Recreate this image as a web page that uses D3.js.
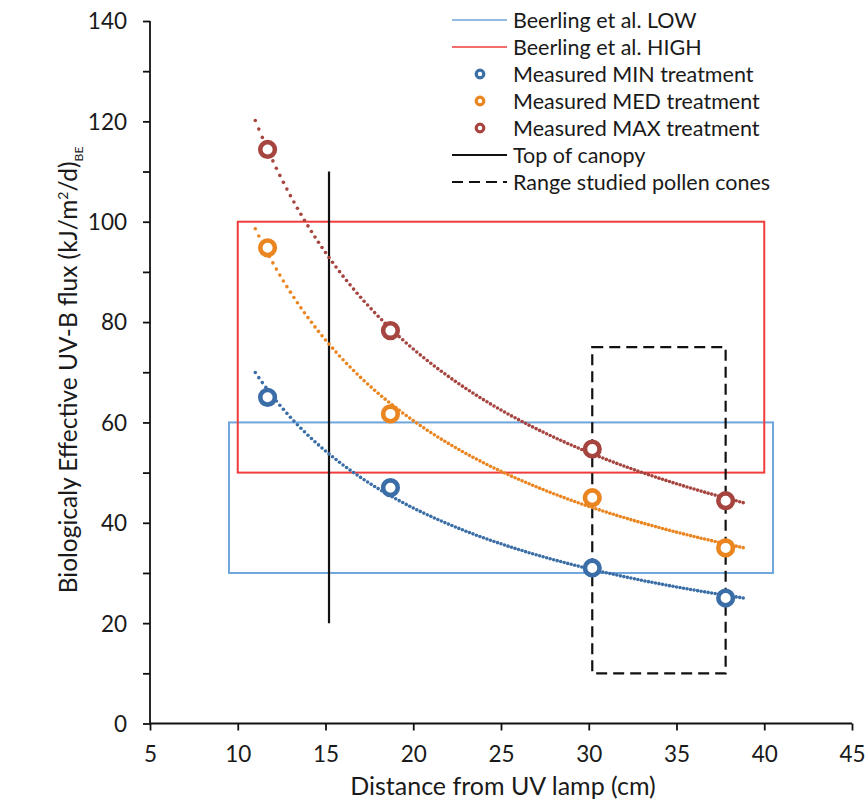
<!DOCTYPE html>
<html><head><meta charset="utf-8">
<script src="https://cdn.jsdelivr.net/npm/d3@7"></script>
<style>body{margin:0;background:#fff}</style></head>
<body><svg id="c" width="867" height="803"></svg>
<script>
const xTicks=[5,10,15,20,25,30,35,40,45];
const yTicks=[0,20,40,60,80,100,120,140];
const yMinorTicks=[10,30,50,70,90,110,130];
const distance=[11.7,18.7,30.2,37.8];
const minVals=[65,47,31,25];
const medVals=[94.8,61.7,45,35];
const maxVals=[114.4,78.3,54.7,44.4];
const seriesNames=["Measured MIN treatment","Measured MED treatment","Measured MAX treatment"];
const seriesColors=["#3b6ea6","#ea8520","#a6443f"];
const lowBox={x0:9.5,x1:40.5,y0:30,y1:60};
const highBox={x0:10,x1:40,y0:50,y1:100};
const canopy={x:15.2,y0:20,y1:110};
const pollenBox={x0:30.2,x1:37.8,y0:10,y1:75};
const trendRange=[11,38.9];
const FONT="Lato, 'Open Sans', sans-serif";
const TXT="#1a1a1a";

const svg=d3.select("#c");
const x=d3.scaleLinear().domain([5,45]).range([150,852]);
const y=d3.scaleLinear().domain([0,140]).range([723.5,21]);

function box(b,color,dash,w){
  svg.append("rect").attr("x",x(b.x0)).attr("y",y(b.y1))
    .attr("width",x(b.x1)-x(b.x0)).attr("height",y(b.y0)-y(b.y1))
    .attr("fill","none").attr("stroke",color).attr("stroke-width",w)
    .attr("stroke-dasharray",dash||null);
}
box(lowBox,"#6fa6dc",null,2);
box(highBox,"#f03c3c",null,2);
box(pollenBox,"#111",'11 6',2.2);
svg.append("line").attr("x1",x(canopy.x)).attr("x2",x(canopy.x))
  .attr("y1",y(canopy.y0)).attr("y2",y(canopy.y1)).attr("stroke","#111").attr("stroke-width",2.2);

const gx=svg.append("g").attr("transform","translate(0,723.5)")
  .call(d3.axisBottom(x).tickValues(xTicks).tickSize(7).tickFormat(d3.format("d")));
const gy=svg.append("g").attr("transform","translate(150,0)")
  .call(d3.axisLeft(y).tickValues(yTicks).tickSize(7).tickFormat(d3.format("d")));
svg.append("g").attr("transform","translate(150,0)")
  .call(d3.axisLeft(y).tickValues(yMinorTicks).tickSize(7).tickFormat(""))
  .select(".domain").remove();
svg.selectAll(".domain").attr("stroke","#111").attr("stroke-width",1.8);
svg.selectAll(".tick line").attr("stroke","#111").attr("stroke-width",1.8);
gx.selectAll("text").attr("font-family",FONT).attr("font-size",22.5).attr("fill",TXT).attr("dy",0).attr("y",38);
gy.selectAll("text").attr("font-family",FONT).attr("font-size",22.5).attr("fill",TXT).attr("x",-23).attr("dy","0.35em");
gx.select(".domain").attr("d",`M${x(5)},0H${x(45)}`);
gy.select(".domain").attr("d",`M0,${y(0)}V${y(140)}`);

svg.append("text").attr("x",x(25)+2).attr("y",795).attr("text-anchor","middle")
  .attr("font-family",FONT).attr("font-size",25).attr("fill",TXT).text("Distance from UV lamp (cm)");
const yt=svg.append("text").attr("transform","translate(77,370) rotate(-90)").attr("text-anchor","middle")
  .attr("font-family",FONT).attr("font-size",24.5).attr("fill",TXT);
yt.append("tspan").text("Biologicaly Effective UV-B flux (kJ/m");
yt.append("tspan").attr("font-size",14).attr("dy",-9).text("2");
yt.append("tspan").attr("dy",9).text("/d)");
yt.append("tspan").attr("font-size",12).attr("dy",6).text("BE");

const allSeries=[minVals,medVals,maxVals];
allSeries.forEach((vals,i)=>{
  const lx=distance.map(Math.log), ly=vals.map(Math.log);
  const mx=d3.mean(lx), my=d3.mean(ly);
  const b=d3.sum(lx.map((v,k)=>(v-mx)*(ly[k]-my)))/d3.sum(lx.map(v=>(v-mx)**2));
  const a=Math.exp(my-b*mx);
  const xs=d3.range(trendRange[0],trendRange[1]+0.001,0.2);
  svg.append("g").selectAll("circle").data(xs).join("circle")
    .attr("cx",d=>x(d)).attr("cy",d=>y(a*Math.pow(d,b))).attr("r",1.8)
    .attr("fill",seriesColors[i]);
});
allSeries.forEach((vals,i)=>{
  svg.append("g").selectAll("circle").data(vals).join("circle")
    .attr("cx",(d,k)=>x(distance[k])).attr("cy",d=>y(d)).attr("r",7.3)
    .attr("fill","#fff").attr("stroke",seriesColors[i]).attr("stroke-width",4.6);
});

const legend=[
  {name:"Beerling et al. LOW",type:"line",color:"#6fa6dc"},
  {name:"Beerling et al. HIGH",type:"line",color:"#f03c3c"},
  {name:seriesNames[0],type:"dot",color:seriesColors[0]},
  {name:seriesNames[1],type:"dot",color:seriesColors[1]},
  {name:seriesNames[2],type:"dot",color:seriesColors[2]},
  {name:"Top of canopy",type:"line",color:"#111"},
  {name:"Range studied pollen cones",type:"dash",color:"#111"}
];
const lg=svg.append("g");
legend.forEach((d,i)=>{
  const yy=20+i*27;
  if(d.type==="dot"){
    lg.append("circle").attr("cx",480).attr("cy",yy).attr("r",3.8).attr("fill","#fff").attr("stroke",d.color).attr("stroke-width",3.2);
  } else {
    lg.append("line").attr("x1",452).attr("x2",507).attr("y1",yy).attr("y2",yy)
      .attr("stroke",d.color).attr("stroke-width",d.color==="#111"?2:1.6)
      .attr("stroke-dasharray",d.type==="dash"?"11 6":null);
  }
  lg.append("text").attr("x",513).attr("y",yy).attr("dy","0.35em")
    .attr("font-family",FONT).attr("font-size",21.5).attr("fill",TXT).text(d.name);
});
</script></body></html>
